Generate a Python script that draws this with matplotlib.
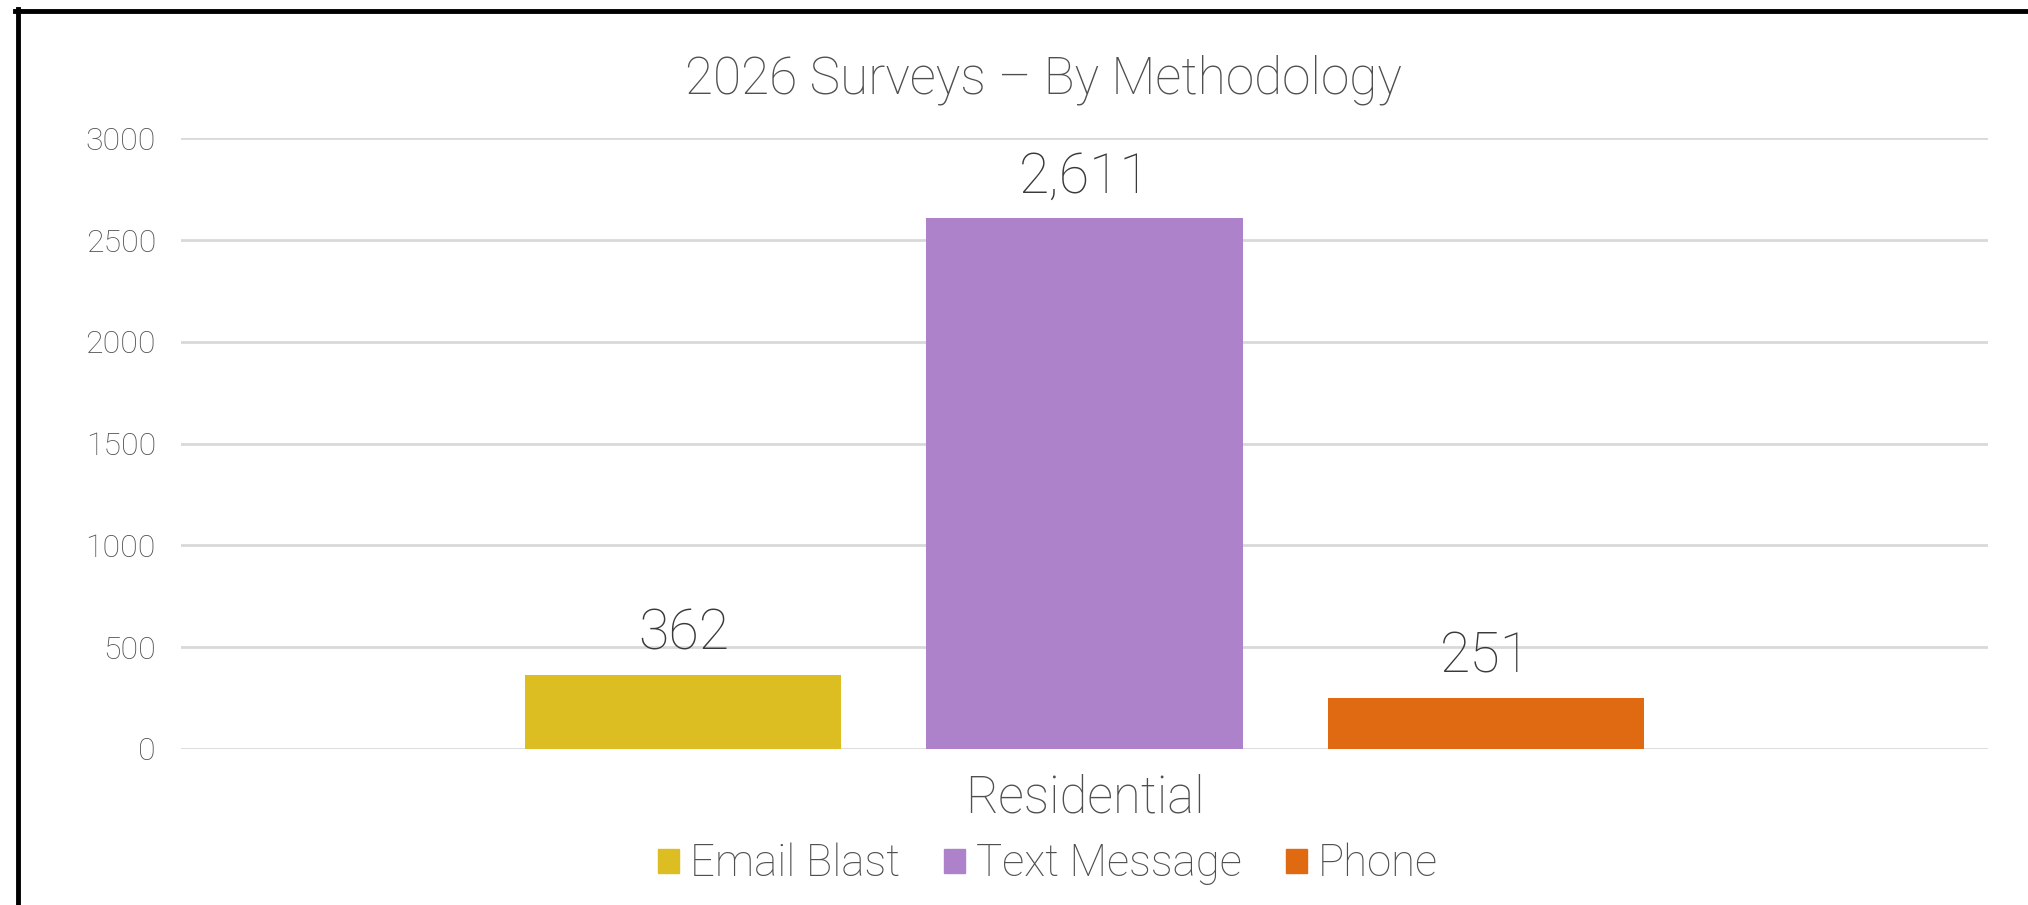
import matplotlib
matplotlib.use("Agg")
import matplotlib.pyplot as plt
from matplotlib.patches import Patch
from matplotlib.lines import Line2D

plt.rcParams['font.family'] = ['Roboto', 'DejaVu Sans']
plt.rcParams['font.weight'] = 'light'

# data
category = ['Residential']
series = ['Email Blast', 'Text Message', 'Phone']
values = [362, 2611, 251]
colors = ['#DCBE22', '#AE82CB', '#DF6A12']
yticks = [0, 500, 1000, 1500, 2000, 2500, 3000]

fig = plt.figure(figsize=(20.28, 9.05), dpi=100)
ax = fig.add_axes([181/2028, 0.1725, (1988-181)/2028, 0.8471-0.1725])

width = 0.175
step = 0.222
for i, (name, v, c) in enumerate(zip(series, values, colors)):
    x = (i - 1) * step
    ax.bar(x, v, width=width, color=c, label=name, zorder=3)
    ax.text(x, v + 70, f"{v:,}", ha='center', va='bottom',
            fontsize=40, color='#3A3A3A', fontweight='light')

ax.set_xlim(-0.5, 0.5)
ax.set_ylim(0, 3000)
ax.set_yticks(yticks)
ax.set_xticks([0])
ax.set_xticklabels(category)
ax.tick_params(axis='y', length=0, pad=18, labelsize=23, labelcolor='#4F4F4F')
ax.tick_params(axis='x', length=0, pad=18, labelsize=36.5, labelcolor='#4F4F4F')
ax.yaxis.grid(True, color='#D9D9D9', linewidth=2, zorder=0)
for s in ax.spines.values():
    s.set_visible(False)

fig.text(1043/2028, 1 - 80/905, '2026 Surveys \u2013 By Methodology', fontsize=37,
         color='#4F4F4F', ha='center', va='center', fontweight='light')

handles = [Patch(color=c, label=n) for n, c in zip(series, colors)]
fig.legend(handles=handles, loc='center', bbox_to_anchor=(1048/2028, 1 - 864/905),
           ncol=3, frameon=False, fontsize=31.5, labelcolor='#4F4F4F',
           handlelength=0.48, handleheight=0.48, handletextpad=0.25, columnspacing=1.0)

# black frame on left and top
fig.add_artist(Line2D([17.5/2028, 17.5/2028], [0, 1 - 9/905], color='black', linewidth=3.5))
fig.add_artist(Line2D([15/2028, 1], [1 - 11/905, 1 - 11/905], color='black', linewidth=3.5))

fig.savefig('out.png', dpi=100, facecolor='white')
